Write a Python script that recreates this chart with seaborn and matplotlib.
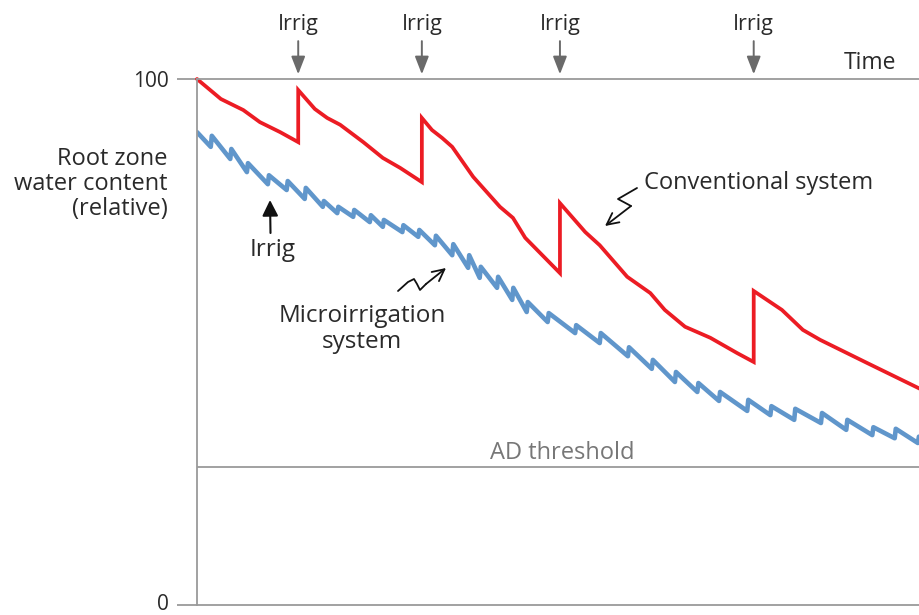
import numpy as np
import pandas as pd
import matplotlib
matplotlib.use("Agg")
import matplotlib.pyplot as plt
import seaborn as sns

# ---------------- data (time 0-100, relative water content 0-100) ----------------
conv_time = [0, 3.3, 6.4, 8.7, 11.5, 14.0, 14.0, 16.3, 18.0, 19.8, 23.0, 25.7, 28.1, 31.1,
             31.1, 32.5, 33.9, 35.3, 38.2, 41.9, 43.7, 45.4, 50.2,
             50.2, 53.7, 55.7, 59.5, 62.7, 64.7, 67.5, 71.0, 74.7, 77.0,
             77.0, 80.9, 83.8, 86.2, 92.7, 100]
conv_value = [100, 96.2, 94.1, 91.8, 89.9, 88.0, 97.9, 94.3, 92.6, 91.3, 88.0, 85.0, 83.1, 80.4,
              92.6, 90.3, 88.8, 87.1, 81.4, 75.7, 73.6, 69.8, 63.1,
              76.4, 70.9, 68.4, 62.4, 59.3, 56.1, 52.9, 50.8, 47.9, 46.2,
              59.7, 56.1, 52.3, 50.4, 46.0, 41.1]

micro_start = 89.9
micro_end = 32.0
micro_irrig_time = [1.9, 4.6, 6.9, 9.8, 12.4, 14.9, 17.4, 19.4, 21.6, 23.9, 25.7, 28.4,
                    30.6, 32.9, 35.3, 37.5, 39.1, 41.5, 43.6, 45.6, 48.5, 52.3, 55.7, 59.6,
                    62.9, 66.1, 69.2, 72.2, 76.1, 79.3, 82.6, 86.3, 89.8, 93.4, 96.5, 99.7]
micro_before = [87.1, 84.8, 82.3, 80.0, 78.9, 77.2, 75.7, 74.5, 73.8, 72.8, 71.9, 70.9,
                70.0, 68.4, 66.5, 64.1, 62.2, 60.3, 58.0, 55.7, 53.8, 51.7, 49.8, 47.3,
                44.9, 42.4, 40.5, 38.8, 36.9, 36.1, 35.2, 34.6, 33.3, 32.3, 31.7, 30.8]
micro_after = [89.2, 86.7, 84.0, 81.7, 80.6, 79.3, 76.8, 75.7, 75.1, 74.1, 73.2, 72.2,
               71.3, 70.2, 68.6, 66.5, 64.3, 62.4, 60.3, 57.6, 55.5, 53.2, 51.7, 49.0,
               46.6, 44.3, 42.2, 40.5, 39.0, 37.8, 37.3, 36.5, 35.2, 33.8, 33.5, 32.0]

irrig_times = [14.0, 31.1, 50.2, 77.0]
ad_threshold = 26.2
ytick_vals = [0, 100]
ytick_labels = ["0", "100"]

# ---------------- build tables ----------------
conv_df = pd.DataFrame({"time": conv_time, "water": conv_value})
mt, mv = [0], [micro_start]
for t, b, a in zip(micro_irrig_time, micro_before, micro_after):
    mt += [t, t + 0.15]
    mv += [b, a]
mt.append(100)
mv.append(micro_end)
micro_df = pd.DataFrame({"time": mt, "water": mv})

# ---------------- figure ----------------
sns.set_theme(style="white")
plt.rcParams["font.family"] = ["Open Sans", "DejaVu Sans"]

W, H = 920, 615
fig = plt.figure(figsize=(W / 100, H / 100), dpi=100)
ax = fig.add_axes([197 / W, (H - 605) / H, (920 - 197) / W, (605 - 79) / H])

RED = "#ec1c24"
BLUE = "#6096cb"
GRAY = "#9a9a9a"
TXT = "#2a2a2a"
BODY = 17

sns.lineplot(data=micro_df, x="time", y="water", ax=ax, color=BLUE, lw=3.3,
             estimator=None, sort=False, solid_joinstyle="round")
sns.lineplot(data=conv_df, x="time", y="water", ax=ax, color=RED, lw=2.7,
             estimator=None, sort=False, solid_joinstyle="miter", clip_on=False)

ax.set_xlim(0, 100)
ax.set_ylim(0, 100)
ax.set_xlabel("")
ax.set_ylabel("")
ax.set_xticks([])
ax.set_yticks(ytick_vals)
ax.set_yticklabels([])
ax.tick_params(axis="y", length=14.5, width=1.3, color=GRAY, left=True)
for s in ["top", "bottom", "left"]:
    ax.spines[s].set_visible(True)
    ax.spines[s].set_color(GRAY)
    ax.spines[s].set_linewidth(1.3)
ax.spines["right"].set_visible(False)


def fx(px):
    return px / W


def fy(py):
    return 1 - py / H


# y tick labels
fig.text(fx(169), fy(79), ytick_labels[1], ha="right", va="center_baseline", fontsize=15, color=TXT)
fig.text(fx(169), fy(610), ytick_labels[0], ha="right", va="baseline", fontsize=15, color=TXT)

# AD threshold
ax.axhline(ad_threshold, color=GRAY, lw=1.3)
ax.text(50.5, ad_threshold + 0.5, "AD threshold", ha="center", va="bottom",
        fontsize=BODY, color="#777777")

# top irrigation markers
for t in irrig_times:
    ax.annotate("", xy=(t, 100.9), xytext=(t, 107.2), xycoords="data",
                arrowprops=dict(arrowstyle="-|>,head_length=0.9,head_width=0.35",
                                color="#6a6a6a", lw=1.4, shrinkA=0, shrinkB=0),
                annotation_clip=False)
    ax.text(t, 110.8, "Irrig", ha="center", va="center_baseline", fontsize=15.5, color=TXT)

ax.text(93.1, 103.6, "Time", ha="center", va="center_baseline", fontsize=16.5, color=TXT)

fig.text(fx(168), fy(184), "Root zone\nwater content\n(relative)", ha="right", va="center",
         fontsize=BODY, color=TXT, linespacing=1.08)

# inner irrig marker
fig.text(fx(273), fy(247), "Irrig", ha="center", va="center_baseline", fontsize=17.5, color=TXT)
ax.annotate("", xy=(fx(270), fy(200)), xytext=(fx(270.5), fy(233)), xycoords="figure fraction",
            arrowprops=dict(arrowstyle="-|>,head_length=0.8,head_width=0.4", color="#111111",
                            lw=1.5, shrinkA=0, shrinkB=0))

# Microirrigation label
fig.text(fx(362), fy(329), "Microirrigation\nsystem", ha="center", va="center",
         fontsize=17.5, color=TXT, linespacing=1.08)
sq = [(398, 291), (408, 282), (414, 279), (417, 284), (420, 290), (426, 284)]
fig.add_artist(plt.Line2D([fx(p[0]) for p in sq], [fy(p[1]) for p in sq], color="#111111",
                          lw=1.3, transform=fig.transFigure))
ax.annotate("", xy=(fx(446), fy(268)), xytext=(fx(426), fy(284)), xycoords="figure fraction",
            arrowprops=dict(arrowstyle="->,head_length=0.7,head_width=0.35", color="#111111",
                            lw=1.3, shrinkA=0, shrinkB=0))

# Conventional label
fig.text(fx(644), fy(183), "Conventional system", ha="left", va="center",
         fontsize=BODY, color=TXT)
sq2 = [(637, 188), (618, 199), (631, 206)]
fig.add_artist(plt.Line2D([fx(p[0]) for p in sq2], [fy(p[1]) for p in sq2], color="#111111",
                          lw=1.3, transform=fig.transFigure))
ax.annotate("", xy=(fx(605), fy(226)), xytext=(fx(631), fy(206)), xycoords="figure fraction",
            arrowprops=dict(arrowstyle="->,head_length=0.7,head_width=0.35", color="#111111",
                            lw=1.3, shrinkA=0, shrinkB=0))

fig.savefig("out.png", dpi=100, facecolor="white")
